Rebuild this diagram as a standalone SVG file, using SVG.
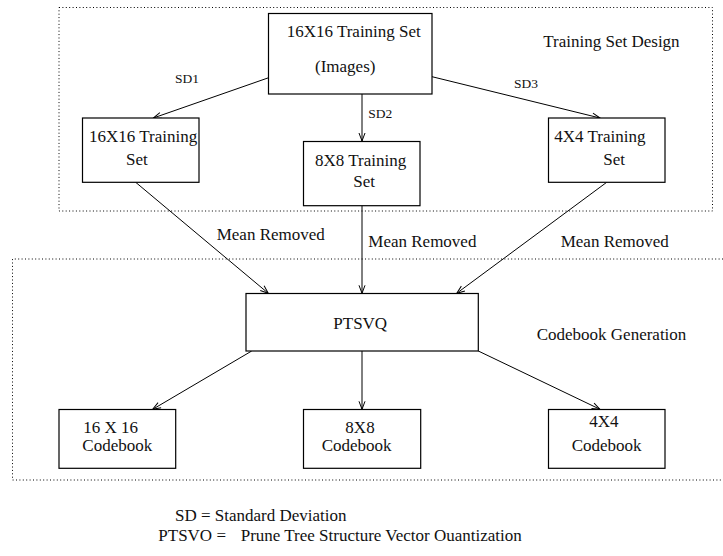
<svg xmlns="http://www.w3.org/2000/svg" width="723" height="556" viewBox="0 0 723 556">
  <style>
    .box { fill: #fff; stroke: #000; stroke-width: 1.2; }
    .region { fill: none; stroke: #000; stroke-width: 1; stroke-dasharray: 1 2.4; }
    .edge { fill: none; stroke: #000; stroke-width: 1; marker-end: url(#arrow); }
    .lbl { font-size: 17px; }
    .sm { font-size: 13.5px; }
  </style>
  <defs>
    <marker id="arrow" markerUnits="userSpaceOnUse" markerWidth="12" markerHeight="10" viewBox="-10 -5 12 10" refX="0" refY="0" orient="auto" overflow="visible">
      <path d="M-8,-3 L0,0 L-8,3" fill="none" stroke="#000" stroke-width="1"/>
    </marker>
  </defs>

  <rect width="723" height="556" fill="#fff"/>

  <g font-family="Liberation Serif, DejaVu Serif, serif" fill="#111">
  <!-- dotted grouping regions -->
  <g id="regions">
    <rect class="region" x="59" y="7.5" width="653.5" height="203.5"/>
    <path class="region" d="M723,259 H12.5 V480 H723"/>
    <text class="lbl" x="543.3" y="46.7">Training Set Design</text>
    <text class="lbl" x="536.7" y="340">Codebook Generation</text>
  </g>

  <!-- connectors -->
  <g id="connectors">
    <line class="edge" x1="268.7" y1="77.7" x2="153.3" y2="118"/>
    <line class="edge" x1="362" y1="94" x2="362" y2="141"/>
    <line class="edge" x1="432" y1="76.7" x2="600" y2="118"/>
    <line class="edge" x1="135.7" y1="182.3" x2="268.3" y2="293.3"/>
    <line class="edge" x1="362" y1="205.7" x2="362" y2="293.3"/>
    <line class="edge" x1="606.7" y1="182.3" x2="456.7" y2="293.3"/>
    <line class="edge" x1="251.7" y1="351" x2="152.7" y2="409.3"/>
    <line class="edge" x1="362" y1="351" x2="362" y2="409.3"/>
    <line class="edge" x1="478.3" y1="351" x2="600" y2="409.3"/>
    <text class="sm" x="175" y="83">SD1</text>
    <text class="sm" x="368.3" y="118.3">SD2</text>
    <text class="sm" x="514" y="88">SD3</text>
    <text class="lbl" x="216.7" y="240">Mean Removed</text>
    <text class="lbl" x="368.3" y="246.7">Mean Removed</text>
    <text class="lbl" x="560.7" y="246.7">Mean Removed</text>
  </g>

  <g id="n_source">
    <rect class="box" x="268.5" y="13.5" width="163.5" height="80.5"/>
    <text class="lbl" x="286.7" y="36.7">16X16 Training Set</text>
    <text class="lbl" x="315" y="71.7">(Images)</text>
  </g>

  <g id="n_train16">
    <rect class="box" x="82.5" y="118" width="116.5" height="64.3"/>
    <text class="lbl" x="89" y="141.7">16X16 Training</text>
    <text class="lbl" x="126" y="165">Set</text>
  </g>

  <g id="n_train8">
    <rect class="box" x="303.5" y="141.5" width="116.5" height="64.2"/>
    <text class="lbl" x="315" y="166">8X8 Training</text>
    <text class="lbl" x="353.3" y="187.3">Set</text>
  </g>

  <g id="n_train4">
    <rect class="box" x="548.5" y="118" width="116.5" height="64.3"/>
    <text class="lbl" x="554.3" y="141.7">4X4 Training</text>
    <text class="lbl" x="603.3" y="165">Set</text>
  </g>

  <g id="n_ptsvq">
    <rect class="box" x="246" y="293.5" width="232.3" height="57.5"/>
    <text class="lbl" x="333.3" y="329">PTSVQ</text>
  </g>

  <g id="n_code16">
    <rect class="box" x="59" y="409.5" width="116.7" height="58.8"/>
    <text class="lbl" x="83.3" y="432.7">16 X 16</text>
    <text class="lbl" x="82.3" y="450.7">Codebook</text>
  </g>

  <g id="n_code8">
    <rect class="box" x="303.5" y="409.5" width="117.2" height="58.8"/>
    <text class="lbl" x="360" y="432.7" text-anchor="middle">8X8</text>
    <text class="lbl" x="321.7" y="450.7">Codebook</text>
  </g>

  <g id="n_code4">
    <rect class="box" x="548.5" y="409.5" width="116.5" height="58.8"/>
    <text class="lbl" x="589.3" y="426.7">4X4</text>
    <text class="lbl" x="571.7" y="450.7">Codebook</text>
  </g>

  <!-- legend -->
  <g id="legend">
    <text class="lbl" x="175" y="521">SD = Standard Deviation</text>
    <text class="lbl" x="158.3" y="541">PTSVO =</text>
    <text class="lbl" x="240.7" y="541">Prune Tree Structure Vector Ouantization</text>
  </g>
  </g>
</svg>
